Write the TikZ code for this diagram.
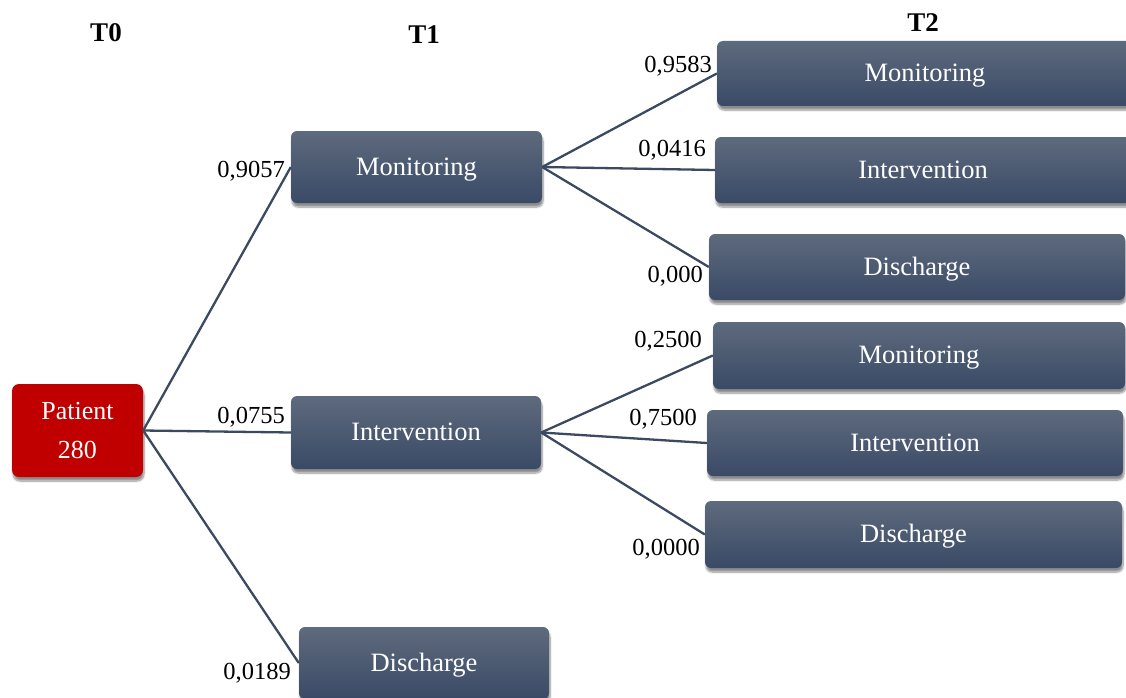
\documentclass[tikz,border=0pt]{standalone}
\usepackage{fontspec}
\setmainfont{Liberation Serif}
\usetikzlibrary{shadows.blur}
\definecolor{boxtop}{HTML}{5E6A7D}
\definecolor{boxbot}{HTML}{3A4A66}
\definecolor{edgecol}{HTML}{3B4A60}
\definecolor{patred}{HTML}{C00000}
\tikzset{
  x=1pt, y=-1pt,
  statebox/.style={rounded corners=6pt, top color=boxtop, bottom color=boxbot,
    text=white, font=\fontsize{26.5}{30}\selectfont, inner sep=0pt,
    text height=20pt, text depth=3.5pt,
    blur shadow={shadow xshift=1pt, shadow yshift=-4pt, shadow blur steps=8, shadow opacity=45}},
  rootbox/.style={rounded corners=7pt, fill=patred, text=white, align=center,
    font=\fontsize{26}{39}\selectfont, inner sep=0pt,
    blur shadow={shadow xshift=1pt, shadow yshift=-4pt, shadow blur steps=8, shadow opacity=45}},
  prob/.style={anchor=east, inner sep=0pt, font=\fontsize{24.5}{27}\selectfont},
  period/.style={inner sep=0pt, font=\bfseries\fontsize{27}{30}\selectfont},
  link/.style={draw=edgecol, line width=2.3pt},
}
\begin{document}
\begin{tikzpicture}
\useasboundingbox (0,0) rectangle (1126,698);
\clip (0,0) rectangle (1126,698);

% time step headings
\node[period] (h0) at (106,33) {T0};
\node[period] (h1) at (424,35) {T1};
\node[period] (h2) at (923,23) {T2};

% root
\node[rootbox, minimum width=131pt, minimum height=93pt] (pat) at (77.5,430.5) {Patient\\280};

% first step
\node[statebox, minimum width=251pt, minimum height=72pt] (m1) at (416.5,167) {Monitoring};
\node[statebox, minimum width=250pt, minimum height=73pt] (i1) at (416,432.5) {Intervention};
\node[statebox, minimum width=250pt, minimum height=72pt] (d1) at (424,663) {Discharge};

% second step after monitoring
\node[statebox, minimum width=416pt, minimum height=65pt] (mm) at (925,73.5) {Monitoring};
\node[statebox, minimum width=416pt, minimum height=66pt] (mi) at (923,170) {Intervention};
\node[statebox, minimum width=416pt, minimum height=66pt] (md) at (917,267) {Discharge};

% second step after intervention
\node[statebox, minimum width=412pt, minimum height=67pt] (im) at (919,355.5) {Monitoring};
\node[statebox, minimum width=416pt, minimum height=66pt] (ii) at (915,443) {Intervention};
\node[statebox, minimum width=417pt, minimum height=67pt] (id) at (913.5,534.5) {Discharge};

% branches
\draw[link] (pat.east) -- (m1.west);
\draw[link] (pat.east) -- (i1.west);
\draw[link] (pat.east) -- (d1.west);
\draw[link] (m1.east) -- (mm.west);
\draw[link] (m1.east) -- (mi.west);
\draw[link] (m1.east) -- (md.west);
\draw[link] (i1.east) -- (im.west);
\draw[link] (i1.east) -- (ii.west);
\draw[link] (i1.east) -- (id.west);

% transition probabilities
\node[prob] (p1) at (285,171) {0,9057};
\node[prob] (p2) at (285,417) {0,0755};
\node[prob] (p3) at (291,673) {0,0189};
\node[prob] (p4) at (712,66) {0,9583};
\node[prob] (p5) at (706,150) {0,0416};
\node[prob] (p6) at (703,276) {0,000};
\node[prob] (p7) at (702,341) {0,2500};
\node[prob] (p8) at (697,419) {0,7500};
\node[prob] (p9) at (700,549) {0,0000};
\end{tikzpicture}
\end{document}
